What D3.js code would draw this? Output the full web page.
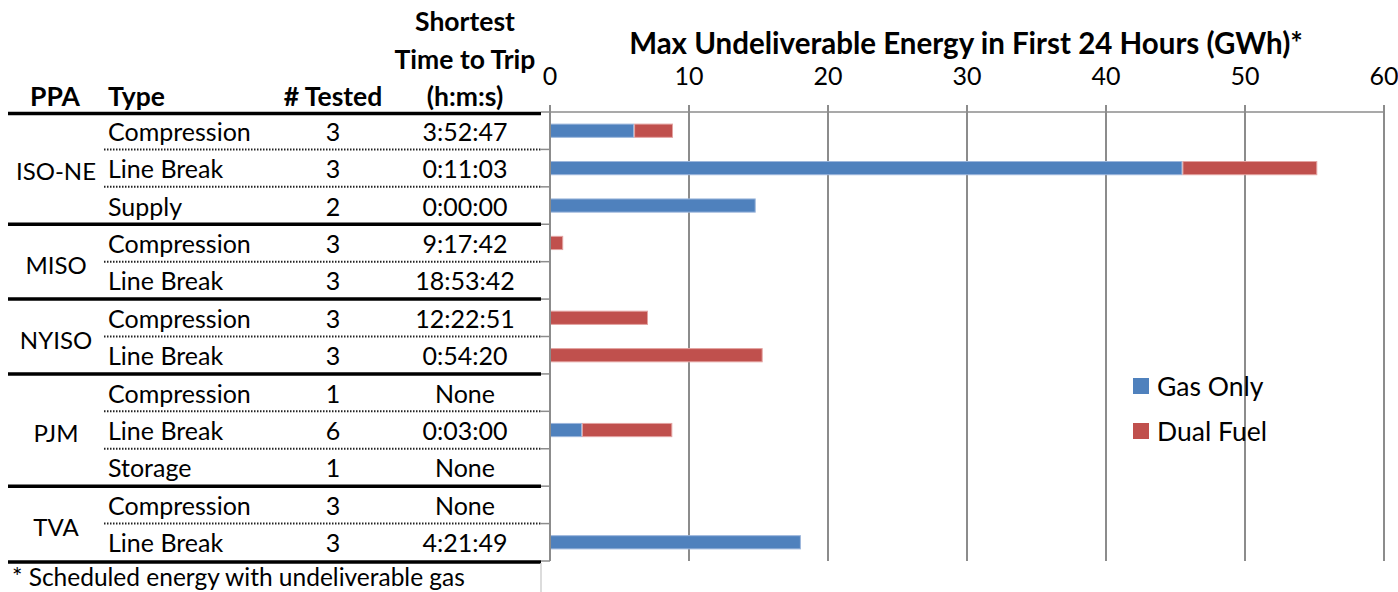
<!DOCTYPE html>
<html>
<head>
<meta charset="utf-8">
<script src="https://cdn.jsdelivr.net/npm/d3@7"></script>
<style>
  html, body { margin: 0; padding: 0; background: #fff; }
  svg { display: block; }
  text { font-family: Lato, "Open Sans", sans-serif; fill: #000; }
</style>
</head>
<body>
<svg id="chart" width="1398" height="592"></svg>
<script>
// ---- data ----
const ppa = ["ISO-NE", "MISO", "NYISO", "PJM", "TVA"];
const ppaRows = [3, 2, 2, 3, 2];
const types = ["Compression", "Line Break", "Supply", "Compression", "Line Break", "Compression", "Line Break", "Compression", "Line Break", "Storage", "Compression", "Line Break"];
const tested = [3, 3, 2, 3, 3, 3, 3, 1, 6, 1, 3, 3];
const tripTimes = ["3:52:47", "0:11:03", "0:00:00", "9:17:42", "18:53:42", "12:22:51", "0:54:20", "None", "0:03:00", "None", "None", "4:21:49"];
const gasOnly = [6.05, 45.5, 14.8, 0, 0, 0, 0, 0, 2.3, 0, 0, 18.05];
const dualFuel = [2.8, 9.7, 0, 0.95, 0, 7.05, 15.3, 0, 6.5, 0, 0, 0];
const xTicks = [0, 10, 20, 30, 40, 50, 60];
const seriesNames = ["Gas Only", "Dual Fuel"];
const seriesColors = ["#4F81BD", "#C0504D"];
const seriesEdge = ["#9DB7DC", "#E3A3A1"];
const title = "Max Undeliverable Energy in First 24 Hours (GWh)*";
const footnote = "* Scheduled energy with undeliverable gas";

// ---- layout ----
const svg = d3.select("#chart");
const plotLeft = 550, plotRight = 1384, plotTop = 112, plotBottom = 561;
const rowIdx = d3.range(types.length);

const x = d3.scaleLinear().domain([0, 60]).range([plotLeft, plotRight]);
const y = d3.scaleBand().domain(rowIdx).range([plotTop, plotBottom])
  .paddingInner(0.62).paddingOuter(0.31);
const step = y.step();
const rowMid = i => y(i) + y.bandwidth() / 2;

const grid = "#8C8C8C";
const FS = 25;

// gridlines
svg.append("g").selectAll("line").data(xTicks.slice(1)).join("line")
  .attr("x1", d => x(d)).attr("x2", d => x(d))
  .attr("y1", plotTop - 7).attr("y2", plotBottom)
  .attr("stroke", grid).attr("stroke-width", 2);

// top axis line
svg.append("line").attr("x1", plotLeft).attr("x2", plotRight)
  .attr("y1", plotTop).attr("y2", plotTop)
  .attr("stroke", grid).attr("stroke-width", 1.5);

// bars
const stacked = rowIdx.map(i => ({ i, segs: [[0, gasOnly[i]], [gasOnly[i], gasOnly[i] + dualFuel[i]]] }));
const barG = svg.append("g");
stacked.forEach(r => {
  r.segs.forEach((s, k) => {
    if (s[1] - s[0] <= 0) return;
    barG.append("rect")
      .attr("x", x(s[0]) + 0.5).attr("y", y(r.i) + 0.5)
      .attr("width", x(s[1]) - x(s[0]) - 1).attr("height", y.bandwidth() - 1)
      .attr("fill", seriesColors[k]).attr("stroke", seriesEdge[k]).attr("stroke-width", 1);
  });
});

// left axis line & ticks
svg.append("line").attr("x1", plotLeft).attr("x2", plotLeft)
  .attr("y1", plotTop - 7).attr("y2", plotBottom)
  .attr("stroke", grid).attr("stroke-width", 2);
const boundaries = d3.range(types.length + 1).map(i => plotTop + i * step);
svg.append("g").selectAll("line").data(boundaries).join("line")
  .attr("x1", plotLeft - 9).attr("x2", plotLeft)
  .attr("y1", d => d).attr("y2", d => d)
  .attr("stroke", grid).attr("stroke-width", 1.5);

// x tick labels
svg.append("g").selectAll("text").data(xTicks).join("text")
  .attr("x", d => x(d)).attr("y", 85)
  .attr("text-anchor", "middle").attr("font-size", FS)
  .text(d => d);

// title
svg.append("text").attr("x", 966).attr("y", 54)
  .attr("text-anchor", "middle").attr("font-size", 29.5).attr("font-weight", "bold")
  .text(title);

// legend
const leg = svg.append("g");
seriesNames.forEach((n, k) => {
  const cy = 386 + k * 45;
  leg.append("rect").attr("x", 1133).attr("y", cy - 8).attr("width", 16).attr("height", 16)
    .attr("fill", seriesColors[k]);
  leg.append("text").attr("x", 1157).attr("y", cy + 10).attr("font-size", 26.5).text(n);
});

// ---- table ----
const tableLeft = 8, tableRight = 541;
const colType = 108, colTested = 333, colTime = 465;
const HS = 26.5;
const hdr = svg.append("g");
hdr.append("text").attr("x", 55).attr("y", 106).attr("text-anchor", "middle").attr("font-weight", "bold").attr("font-size", HS).text("PPA");
hdr.append("text").attr("x", colType).attr("y", 106).attr("font-weight", "bold").attr("font-size", HS).text("Type");
hdr.append("text").attr("x", colTested).attr("y", 106).attr("text-anchor", "middle").attr("font-weight", "bold").attr("font-size", HS).text("# Tested");
["Shortest", "Time to Trip", "(h:m:s)"].forEach((t, k) => {
  hdr.append("text").attr("x", colTime).attr("y", 31 + k * 37.5).attr("text-anchor", "middle")
    .attr("font-weight", "bold").attr("font-size", HS).text(t);
});

const body = svg.append("g");
rowIdx.forEach(i => {
  const by = rowMid(i) + 10;
  body.append("text").attr("x", colType).attr("y", by).attr("font-size", FS).text(types[i]);
  body.append("text").attr("x", colTested).attr("y", by).attr("text-anchor", "middle").attr("font-size", FS).text(tested[i]);
  body.append("text").attr("x", colTime).attr("y", by).attr("text-anchor", "middle").attr("font-size", FS).text(tripTimes[i]);
});

// group labels and lines
let start = 0;
const groupEnds = [];
ppa.forEach((p, g) => {
  const n = ppaRows[g];
  const yTop = plotTop + start * step, yBot = plotTop + (start + n) * step;
  body.append("text").attr("x", 56).attr("y", (yTop + yBot) / 2 + 12)
    .attr("text-anchor", "middle").attr("font-size", 24).text(p);
  for (let r = 1; r < n; r++) {
    const ly = plotTop + (start + r) * step;
    svg.append("line").attr("x1", 104).attr("x2", tableRight).attr("y1", ly).attr("y2", ly)
      .attr("stroke", "#222").attr("stroke-width", 2).attr("stroke-dasharray", "1.5,1.5");
  }
  groupEnds.push(yBot);
  start += n;
});
[plotTop + 1.5].concat(groupEnds.map((d, k) => d + (k === groupEnds.length - 1 ? 1 : 0))).forEach(ly => {
  svg.append("line").attr("x1", tableLeft).attr("x2", tableRight).attr("y1", ly).attr("y2", ly)
    .attr("stroke", "#000").attr("stroke-width", 3.5);
});

// footnote cell border and text
svg.append("line").attr("x1", tableRight).attr("x2", tableRight).attr("y1", plotBottom + 2).attr("y2", 592)
  .attr("stroke", "#D0D0D0").attr("stroke-width", 1.5);
svg.append("text").attr("x", 12).attr("y", 586).attr("font-size", 24.5).text(footnote);
</script>
</body>
</html>
